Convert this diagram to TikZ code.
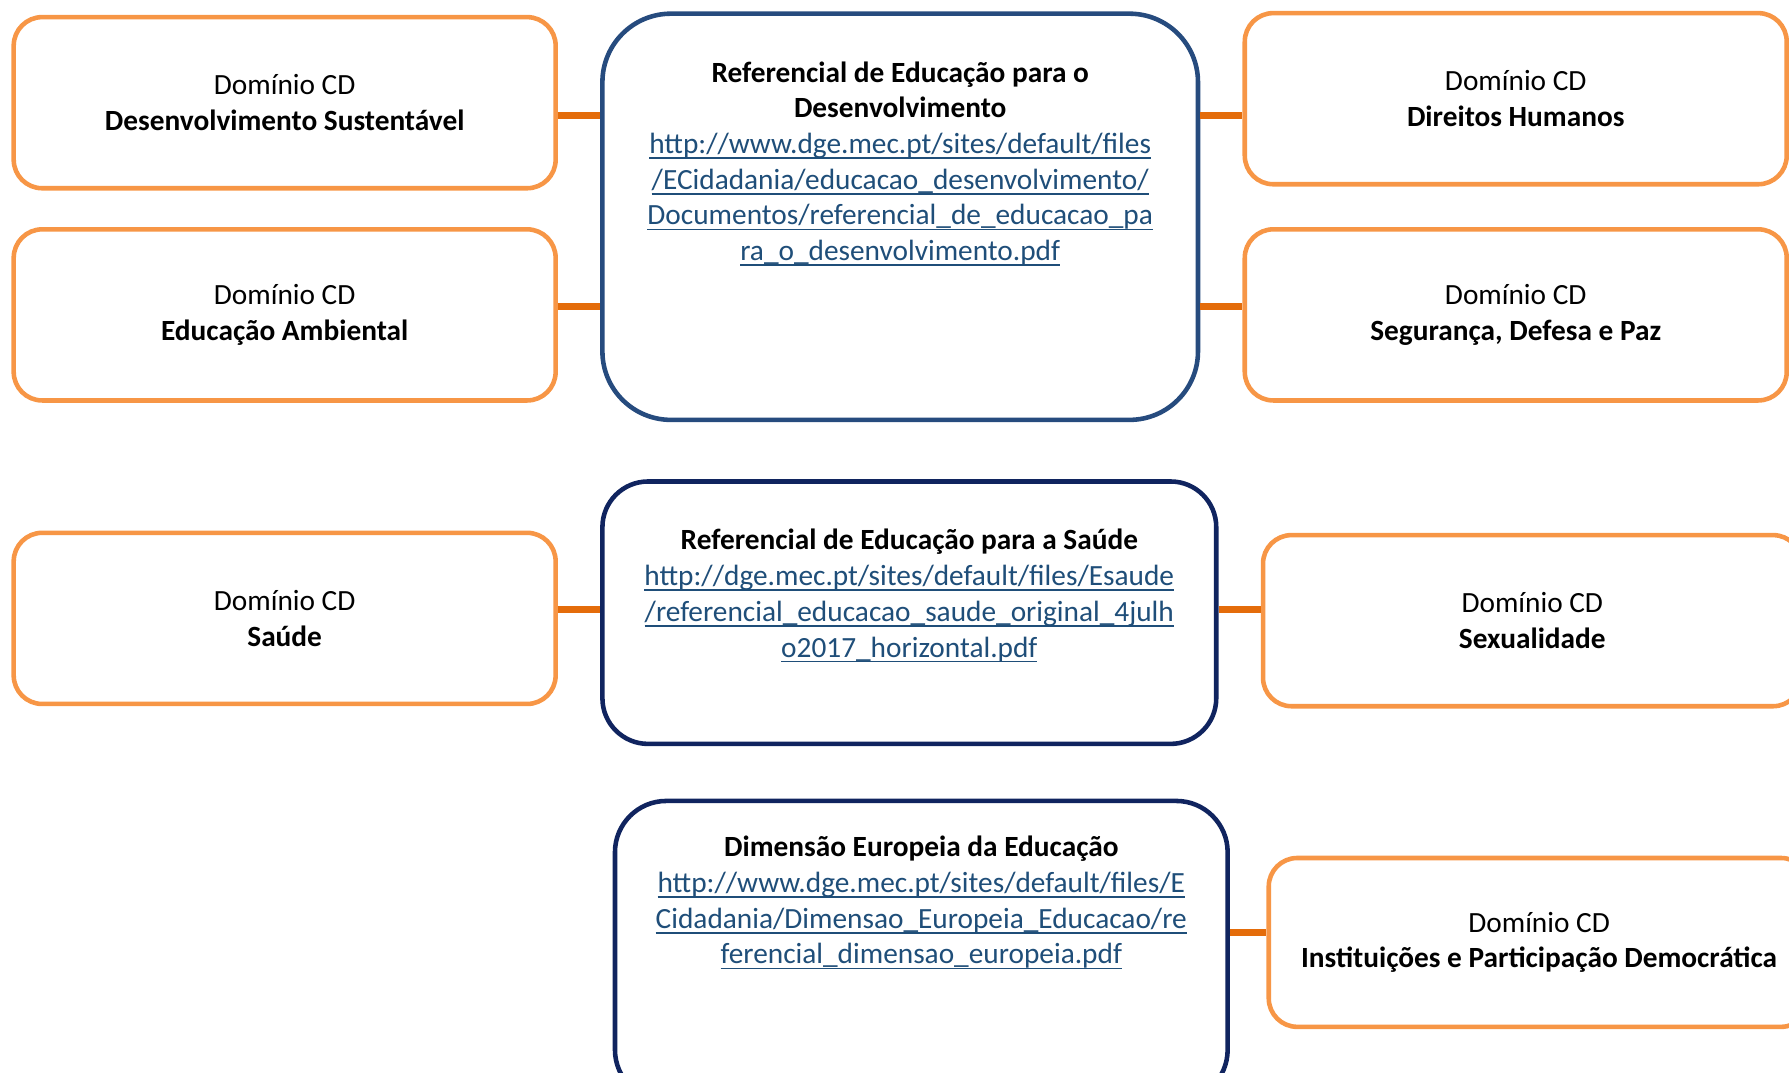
\documentclass[tikz,border=0pt]{standalone}
\usepackage{fontspec}
\setmainfont{Carlito}
\usetikzlibrary{positioning}

\definecolor{orangeline}{HTML}{F79646}
\definecolor{linkline}{HTML}{E46C0A}
\definecolor{refblue}{HTML}{264B7E}
\definecolor{refnavy}{HTML}{10245F}
\definecolor{urlblue}{HTML}{1F4E79}

\newcommand{\unitpx}{0.428pt}
\newsavebox{\linkbox}
\newcommand{\weblink}[1]{\textcolor{urlblue}{\sbox{\linkbox}{#1}%
\rlap{\rule[-2pt]{\wd\linkbox}{0.6pt}}\usebox{\linkbox}}}

\begin{document}
\begin{tikzpicture}[
    x=\unitpx, y=-\unitpx,
    base/.style = {rectangle, draw, fill=white, line width=4*\unitpx,
align=center, inner sep=0pt},
    dominio/.style = {base, draw=orangeline, rounded corners=25*\unitpx,
minimum width=475*\unitpx, minimum height=150*\unitpx},
    referencial/.style = {base, draw=refnavy, rounded corners=40*\unitpx},
    reftext/.style = {align=center, inner sep=0pt},
    link/.style = {draw=linkline, line width=6*\unitpx},
    every node/.style={font=\fontsize{11pt}{13.4pt}\selectfont}
]
  \useasboundingbox (0,0) rectangle (1568,940);
  \clip (0,0) rectangle (1568,940);

  % referenciais
  \node (red) [referencial, draw=refblue, rounded corners=60*\unitpx,
minimum width=522*\unitpx, minimum height=356*\unitpx] at (789,190) {};
  \node (res) [referencial, minimum width=538*\unitpx,
minimum height=230*\unitpx] at (797,537) {};
  \node (ede) [referencial, rounded corners=45*\unitpx, minimum width=537*\unitpx,
minimum height=263*\unitpx] at (807.5,833.5) {};

  \node (redtxt) [reftext, below=18.6pt of red.north]
{\textbf{Referencial de Educação para o}\\\textbf{Desenvolvimento}\\
\weblink{http://www.dge.mec.pt/sites/default/files}\\
\weblink{/ECidadania/educacao\_desenvolvimento/}\\
\weblink{Documentos/referencial\_de\_educacao\_pa}\\
\weblink{ra\_o\_desenvolvimento.pdf}};
  \node (restxt) [reftext, below=18.6pt of res.north]
{\textbf{Referencial de Educação para a Saúde}\\
\weblink{http://dge.mec.pt/sites/default/files/Esaude}\\
\weblink{/referencial\_educacao\_saude\_original\_4julh}\\
\weblink{o2017\_horizontal.pdf}};
  \node (edetxt) [reftext, below=13.9pt of ede.north]
{\textbf{Dimensão Europeia da Educação}\\
\weblink{http://www.dge.mec.pt/sites/default/files/E}\\
\weblink{Cidadania/Dimensao\_Europeia\_Educacao/re}\\
\weblink{ferencial\_dimensao\_europeia.pdf}};

  % dominios
  \node (ds) [dominio] at (249.5,90) {Domínio CD\\\textbf{Desenvolvimento Sustentável}};
  \node (ea) [dominio] at (249.5,276) {Domínio CD\\\textbf{Educação Ambiental}};
  \node (dh) [dominio] at (1328.5,86.5) {Domínio CD\\\textbf{Direitos Humanos}};
  \node (sdp) [dominio] at (1328.5,276) {Domínio CD\\\textbf{Segurança, Defesa e Paz}};
  \node (sa) [dominio] at (249.5,542) {Domínio CD\\\textbf{Saúde}};
  \node (sx) [dominio, minimum width=472*\unitpx] at (1343,544)
{Domínio CD\\\textbf{Sexualidade}};
  \node (ipd) [dominio, minimum width=474*\unitpx, minimum height=148*\unitpx]
at (1349,826) {Domínio CD\\\textbf{Instituições e Participação Democrática}};

  \draw[link] (ds.east |- 0,101) -- (red.west |- 0,101);
  \draw[link] (ea.east |- 0,269) -- (red.west |- 0,269);
  \draw[link] (red.east |- 0,101) -- (dh.west |- 0,101);
  \draw[link] (red.east |- 0,269) -- (sdp.west |- 0,269);
  \draw[link] (sa.east |- 0,534) -- (res.west |- 0,534);
  \draw[link] (res.east |- 0,534) -- (sx.west |- 0,534);
  \draw[link] (ede.east |- 0,817) -- (ipd.west |- 0,817);

\end{tikzpicture}
\end{document}
